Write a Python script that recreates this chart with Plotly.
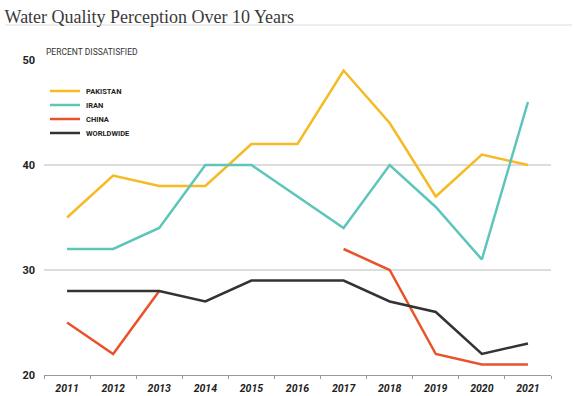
import plotly.graph_objects as go

years = ["2011", "2012", "2013", "2014", "2015", "2016", "2017", "2018", "2019", "2020", "2021"]
pakistan = [35, 39, 38, 38, 42, 42, 49, 44, 37, 41, 40]
iran = [32, 32, 34, 40, 40, 37, 34, 40, 36, 31, 46]
china = [25, 22, 28, None, None, None, 32, 30, 22, 21, 21]
worldwide = [28, 28, 28, 27, 29, 29, 29, 27, 26, 22, 23]

series_names = ["PAKISTAN", "IRAN", "CHINA", "WORLDWIDE"]
series_values = [pakistan, iran, china, worldwide]
series_colors = ["#F6BA22", "#5EC5BA", "#E9532C", "#333333"]

W, H = 574, 396
ML, MR, MT, MB = 44, 23, 60, 21
PW, PH = W - ML - MR, H - MT - MB


def px_x(px):
    return (px - ML) / PW


def px_y(py):
    return (H - MB - py) / PH


fig = go.Figure()
for name, vals, col in zip(series_names, series_values, series_colors):
    fig.add_trace(go.Scatter(
        x=years, y=vals, name=name, mode="lines",
        line=dict(color=col, width=2.5),
        connectgaps=False, showlegend=False,
    ))

fig.update_layout(
    width=W, height=H,
    margin=dict(l=ML, r=MR, t=MT, b=MB),
    paper_bgcolor="white", plot_bgcolor="white",
    title=dict(
        text="Water Quality Perception Over 10 Years",
        x=0.008, xanchor="left", y=0.957, yanchor="middle",
        font=dict(family="Liberation Serif", size=18, color="#3A3A3A"),
    ),
    xaxis=dict(
        type="category", range=[-0.5, 10.5],
        tickson="boundaries", ticks="outside", ticklen=3, tickcolor="#999999",
        showline=True, linecolor="#999999", linewidth=1,
        showgrid=False, automargin=False, ticklabelstandoff=3,
        tickfont=dict(family="Roboto", size=10.5, color="#222222", weight="bold", style="italic"),
    ),
    yaxis=dict(
        range=[20, 50], tickvals=[20, 30, 40, 50], ticks="",
        showgrid=True, gridcolor="#DDDDDD", gridwidth=1.5,
        zeroline=False, showline=False, automargin=False,
        ticklabelstandoff=8,
        tickfont=dict(family="Roboto", size=11, color="#222222", weight="bold"),
    ),
)

# title underline
fig.add_shape(type="line", xref="paper", yref="paper",
              x0=px_x(5), x1=px_x(572), y0=px_y(25), y1=px_y(25),
              line=dict(color="#DDDDDD", width=1))

fig.add_annotation(text="PERCENT DISSATISFIED", xref="paper", yref="paper",
                   x=px_x(44), y=px_y(52), xanchor="left", yanchor="middle",
                   showarrow=False,
                   font=dict(family="Roboto", size=8.5, color="#333333"))

# legend (drawn as key lines + labels)
legend_rows = [91, 105, 119, 133]
for name, col, ry in zip(series_names, series_colors, legend_rows):
    fig.add_shape(type="line", xref="paper", yref="paper",
                  x0=px_x(50), x1=px_x(80), y0=px_y(ry), y1=px_y(ry),
                  line=dict(color=col, width=2.5))
    fig.add_annotation(text=name, xref="paper", yref="paper",
                       x=px_x(84), y=px_y(ry), xanchor="left", yanchor="middle",
                       showarrow=False,
                       font=dict(family="Roboto", size=7.5, color="#222222", weight="bold"))

fig.write_html("out.html", config={"displayModeBar": False},
               post_script="document.body.style.margin='0';")
